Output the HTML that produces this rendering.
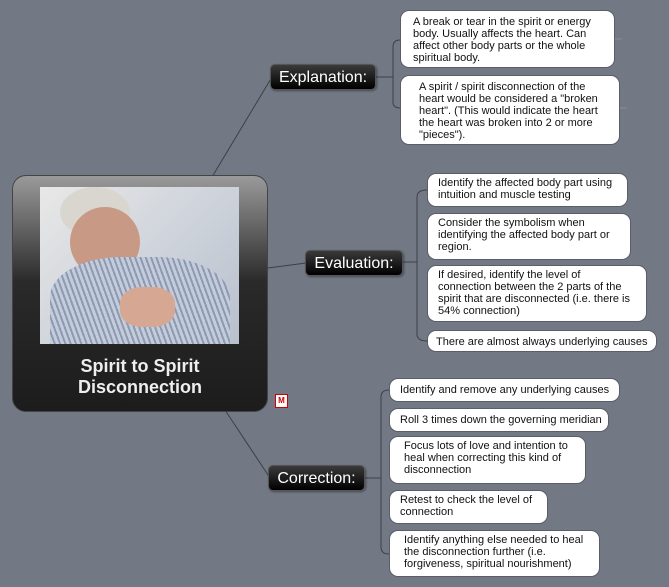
<!DOCTYPE html>
<html><head><style>
body{margin:0;width:669px;height:587px;background:#737885;position:relative;overflow:hidden;font-family:"Liberation Sans",sans-serif}
.b{position:absolute;background:#fff;border-radius:9px;font-size:11px;line-height:12px;color:#111;box-sizing:border-box;padding:3px 6px 0 12px;border:1px solid #5a5e68}
.m{position:absolute;background:linear-gradient(#3a3a3a,#000);color:#fff;border-radius:5px;font-size:16px;box-sizing:border-box;text-align:center;line-height:25px;border:1px solid #555;box-shadow:1px 1px 2px rgba(0,0,0,.4)}
</style></head><body>
<svg width="669" height="587" style="position:absolute;left:0;top:0">
<g stroke="#3c4048" stroke-width="1" fill="none">
<line x1="212" y1="177" x2="272" y2="77"/>
<line x1="268" y1="268" x2="306" y2="263"/>
<line x1="225" y1="410" x2="270" y2="478"/>
<line x1="376" y1="77" x2="393" y2="77"/>
<path d="M400 40 Q393 40 393 47 L393 102 Q393 108 400 108"/>
<line x1="403" y1="262" x2="417" y2="262"/>
<path d="M427 190 Q417 190 417 197 L417 334 Q417 341 427 341"/>
<line x1="365" y1="478" x2="381" y2="478"/>
<path d="M389 390 Q381 390 381 397 L381 547 Q381 554 389 554"/>
</g>
<g stroke="#8a8e98"><line x1="615" y1="39" x2="622" y2="39"/><line x1="620" y1="108" x2="627" y2="108"/></g>
</svg>
<div style="position:absolute;left:12px;top:175px;width:256px;height:237px;border-radius:14px;background:linear-gradient(#9a9a9a 0%,#2a2a2a 45%,#1c1c1c 100%);border:1px solid #444;box-sizing:border-box"></div>
<div style="position:absolute;left:40px;top:187px;width:199px;height:157px;background:linear-gradient(135deg,#e8e8e6,#cfd4dc 50%,#b8c0cc);overflow:hidden">
<div style="position:absolute;left:20px;top:0;width:70px;height:50px;border-radius:50%;background:#d8d6cf"></div>
<div style="position:absolute;left:30px;top:20px;width:70px;height:70px;border-radius:50%;background:#c89a86"></div>
<div style="position:absolute;left:10px;top:70px;width:180px;height:100px;border-radius:40% 40% 0 0;background:repeating-linear-gradient(70deg,#c4ccda 0 3px,#8d9ab4 3px 5px)"></div>
<div style="position:absolute;left:80px;top:100px;width:55px;height:40px;border-radius:40%;background:#d6a894"></div>
</div>
<div style="position:absolute;left:12px;top:356px;width:256px;text-align:center;color:#eee;font-weight:bold;font-size:18px;line-height:21px">Spirit to Spirit<br>Disconnection</div>
<div style="position:absolute;left:275px;top:394px;width:11px;height:12px;background:#fff;border:1px solid #c00;color:#c00;font-size:8px;font-weight:bold;line-height:12px;text-align:center">M</div>
<div class="m" style="left:270px;top:64px;width:106px;height:26px">Explanation:</div>
<div class="m" style="left:305px;top:250px;width:98px;height:26px">Evaluation:</div>
<div class="m" style="left:268px;top:465px;width:97px;height:26px">Correction:</div>
<div class="b" style="left:400px;top:10px;width:215px;height:58px;padding-top:5px">A break or tear in the spirit or energy body. Usually affects the heart. Can affect other body parts or the whole spiritual body.</div>
<div class="b" style="left:400px;top:75px;width:220px;height:70px;padding-left:18px;padding-right:18px;padding-top:5px">A spirit / spirit disconnection of the heart would be considered a "broken heart". (This would indicate the heart the heart was broken into 2 or more "pieces").</div>
<div class="b" style="left:427px;top:173px;width:201px;height:34px;padding-left:10px">Identify the affected body part using intuition and muscle testing</div>
<div class="b" style="left:427px;top:213px;width:204px;height:47px;padding-left:10px">Consider the symbolism when identifying the affected body part or region.</div>
<div class="b" style="left:427px;top:265px;width:220px;height:57px;padding-left:10px;padding-right:12px">If desired, identify the level of connection between the 2 parts of the spirit that are disconnected (i.e. there is 54% connection)</div>
<div class="b" style="left:427px;top:330px;width:230px;height:22px;padding-left:8px;line-height:16px">There are almost always underlying causes</div>
<div class="b" style="left:389px;top:378px;width:231px;height:24px;padding-left:10px;line-height:17px">Identify and remove any underlying causes</div>
<div class="b" style="left:389px;top:408px;width:220px;height:24px;padding-left:10px;line-height:17px">Roll 3 times down the governing meridian</div>
<div class="b" style="left:389px;top:436px;width:197px;height:48px;padding-left:14px">Focus lots of love and intention to heal when correcting this kind of disconnection</div>
<div class="b" style="left:389px;top:490px;width:159px;height:34px;padding-left:10px">Retest to check the level of connection</div>
<div class="b" style="left:389px;top:530px;width:211px;height:47px;padding-left:14px">Identify anything else needed to heal the disconnection further (i.e. forgiveness, spiritual nourishment)</div>
</body></html>
